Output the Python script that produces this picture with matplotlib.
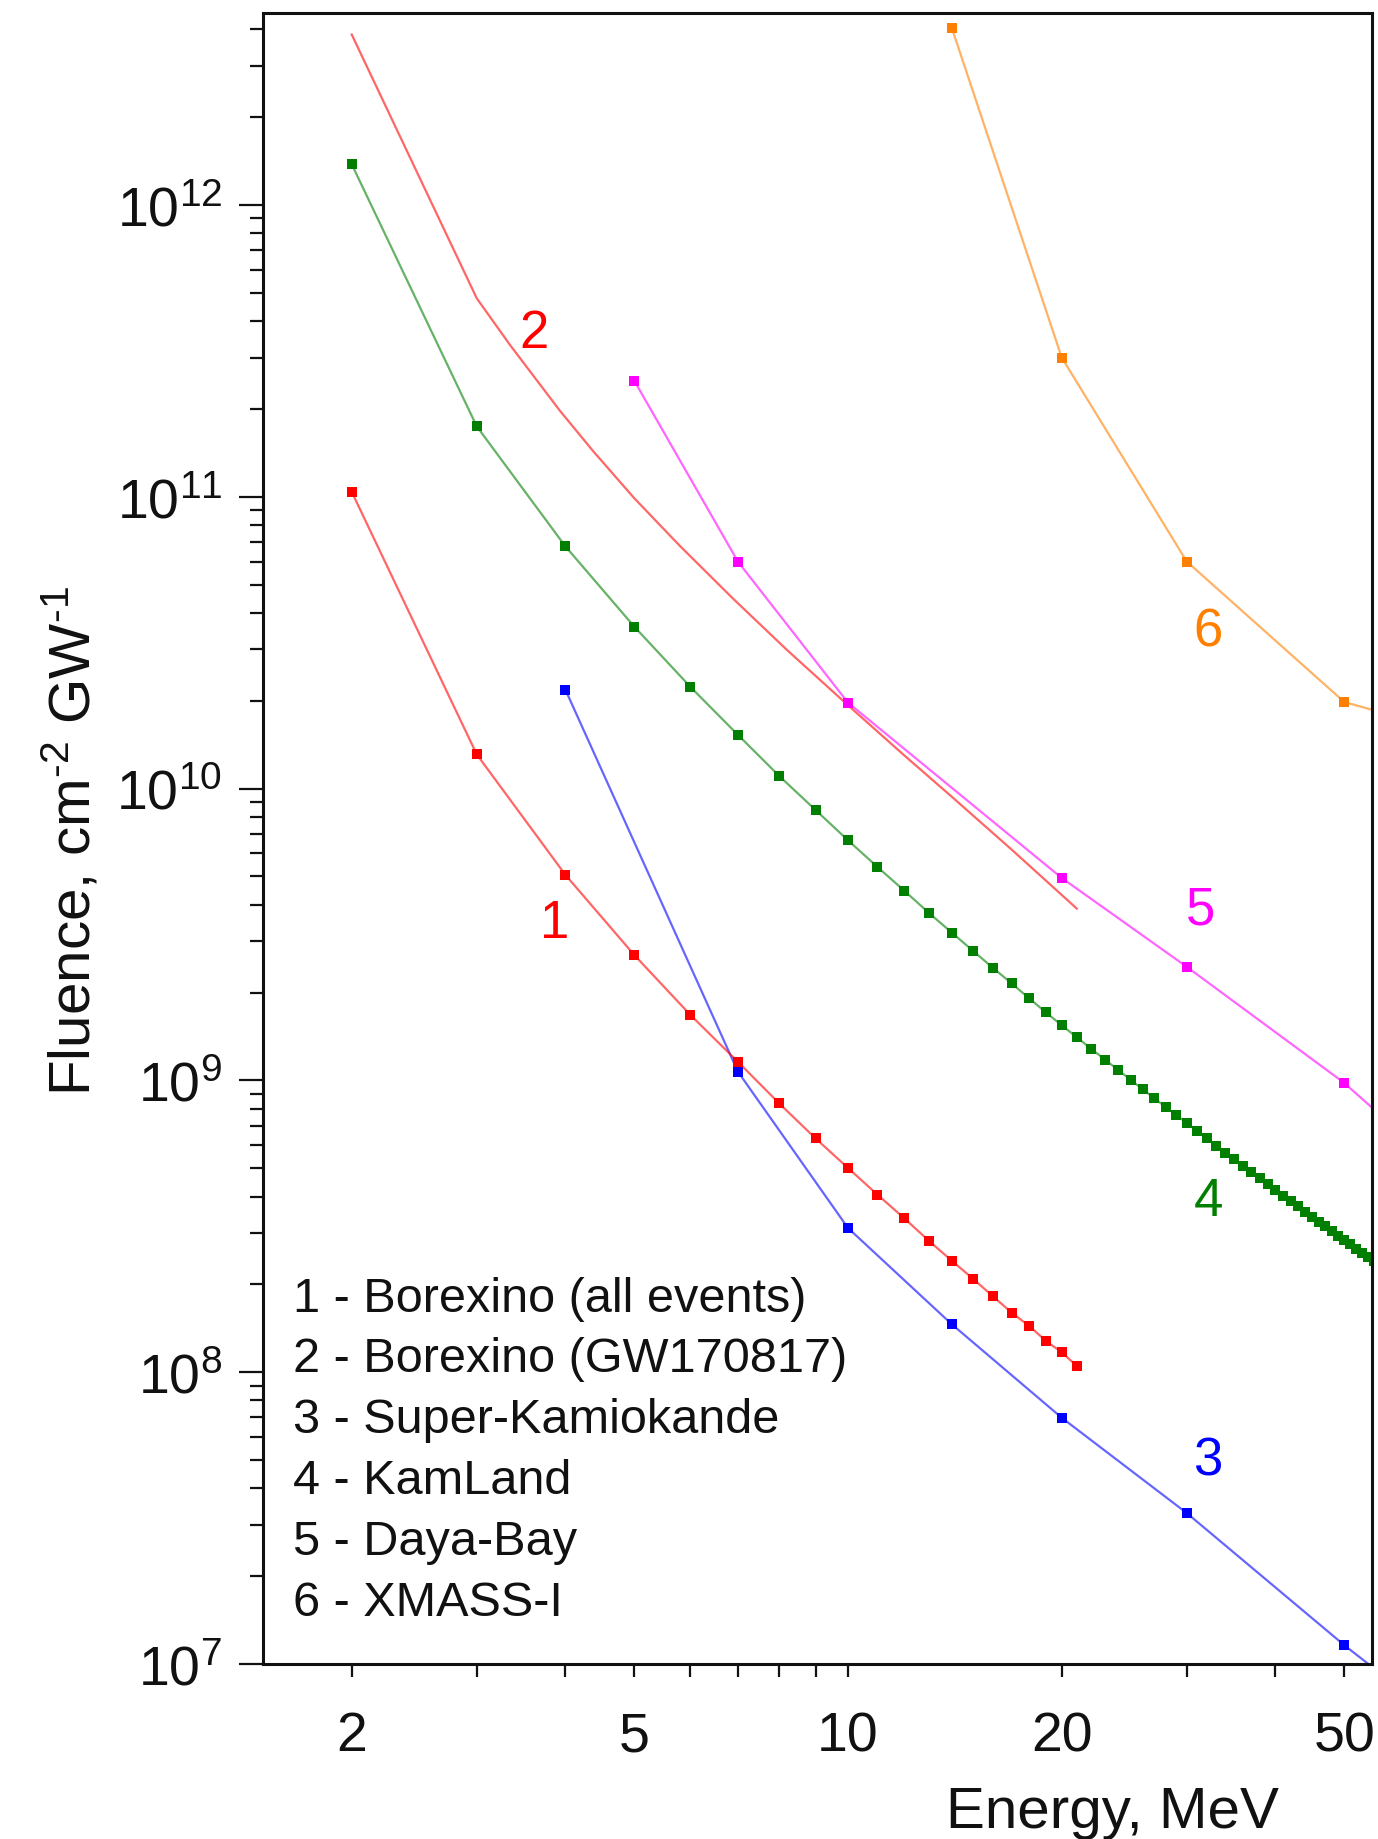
import numpy as np
import matplotlib
matplotlib.use('Agg')
import matplotlib.pyplot as plt
from matplotlib.ticker import FixedLocator, FixedFormatter, LogLocator, NullFormatter

# 1 - Borexino (all events)
e1 = np.arange(2, 22)
f1 = [1.04e11, 1.31e10, 5.06e9, 2.69e9, 1.675e9, 1.157e9, 8.34e8, 6.33e8,
      5.01e8, 4.06e8, 3.37e8, 2.82e8, 2.41e8, 2.09e8, 1.82e8, 1.60e8,
      1.44e8, 1.28e8, 1.17e8, 1.05e8]

# 2 - Borexino (GW170817), plain line
e2 = [2, 3, 3.34, 3.93, 4.38, 5, 5.8, 6.9, 8.2, 10, 12, 14, 17, 21]
f2 = [3.84e12, 4.79e11, 3.32e11, 1.97e11, 1.43e11, 9.89e10, 6.78e10,
      4.46e10, 2.99e10, 1.93e10, 1.30e10, 9.38e9, 6.18e9, 3.88e9]

# 3 - Super-Kamiokande
e3 = [4, 7, 10, 14, 20, 30, 50, 60]
f3 = [2.18e10, 1.07e9, 3.12e8, 1.46e8, 6.98e7, 3.29e7, 1.16e7, 8.2e6]

# 4 - KamLand
e4 = np.arange(2, 56)
f4 = [1.38e12, 1.744e11, 6.76e10, 3.59e10, 2.23e10, 1.527e10, 1.105e10,
      8.45e9, 6.65e9, 5.39e9, 4.47e9, 3.75e9, 3.21e9, 2.78e9, 2.43e9,
      2.15e9, 1.91e9, 1.71e9, 1.545e9,
      1.405e9, 1.284e9, 1.179e9, 1.087e9, 1.005e9,
      9.33e8, 8.69e8, 8.11e8, 7.60e8, 7.14e8,
      6.71e8, 6.33e8, 5.98e8, 5.66e8, 5.37e8,
      5.10e8, 4.85e8, 4.62e8, 4.41e8, 4.21e8,
      4.03e8, 3.86e8, 3.70e8, 3.55e8, 3.41e8,
      3.28e8, 3.16e8, 3.05e8, 2.94e8, 2.84e8,
      2.74e8, 2.65e8, 2.56e8, 2.48e8, 2.40e8]

# 5 - Daya-Bay
e5 = [5, 7, 10, 20, 30, 50, 60]
f5 = [2.5e11, 5.99e10, 1.97e10, 4.94e9, 2.45e9, 9.8e8, 6.6e8]

# 6 - XMASS-I
e6 = [14, 20, 30, 50, 60]
f6 = [4.05e12, 3.0e11, 6.0e10, 1.98e10, 1.75e10]

legend_lines = ['1 - Borexino (all events)', '2 - Borexino (GW170817)',
                '3 - Super-Kamiokande', '4 - KamLand', '5 - Daya-Bay',
                '6 - XMASS-I']

xticks = [2, 5, 10, 20, 50]
xminor = [3, 4, 6, 7, 8, 9, 30, 40]

red = '#FF0000'
green = '#007F00'
blue = '#0000FF'
magenta = '#FF00FF'
orange = '#FF8000'

plt.rcParams['font.family'] = ['Liberation Sans', 'DejaVu Sans']
plt.rcParams['mathtext.fontset'] = 'custom'
plt.rcParams['mathtext.rm'] = 'Liberation Sans'
plt.rcParams['mathtext.it'] = 'Liberation Sans:italic'
plt.rcParams['mathtext.bf'] = 'Liberation Sans:bold'

W, H = 1378, 1840
fig = plt.figure(figsize=(W / 100, H / 100), dpi=100)
ax = fig.add_axes([263 / W, 1 - 1665 / H, (1372 - 263) / W, (1665 - 14) / H])


def curve(e, f, c, marks=True):
    ax.plot(e, f, '-', color=c, lw=1.6, alpha=0.6)
    if marks:
        ax.plot(e, f, 's', color=c, ms=7, mew=0)


curve(e2, f2, red, marks=False)
curve(e6, f6, orange)
curve(e5, f5, magenta)
curve(e4, f4, green)
curve(e3, f3, blue)
curve(e1, f1, red)

ax.set_xscale('log')
ax.set_yscale('log')
ax.set_xlim(1.5, 54.7)
ax.set_ylim(1e7, 4.55e12)

ax.xaxis.set_major_locator(FixedLocator(xticks))
ax.xaxis.set_major_formatter(FixedFormatter([str(v) for v in xticks]))
ax.xaxis.set_minor_locator(FixedLocator(xminor))
ax.xaxis.set_minor_formatter(NullFormatter())
ax.yaxis.set_major_locator(LogLocator(base=10, numticks=20))
ax.yaxis.set_minor_locator(LogLocator(base=10, subs=np.arange(2, 10), numticks=20))
ax.yaxis.set_minor_formatter(NullFormatter())

ax.tick_params(axis='x', which='both', direction='out', length=9.4, width=1.6,
               labelsize=40, pad=24, colors='#111111')
ax.tick_params(axis='y', which='major', direction='out', length=17.3, width=1.6,
               labelsize=40, pad=12, colors='#111111')
ax.tick_params(axis='y', which='minor', direction='out', length=9.4, width=1.6,
               colors='#111111')
for sp in ax.spines.values():
    sp.set_linewidth(2.2)
    sp.set_color('#111111')

# the decade tick on the x axis is longer than the others
for t in ax.xaxis.get_major_ticks():
    if t.get_loc() == 10:
        t.tick1line.set_markersize(17.3)

# curve numbers
nums = [('1', 0.2633, 0.4403, red), ('2', 0.2444, 0.7977, red),
        ('3', 0.8521, 0.1145, blue), ('4', 0.8521, 0.2720, green),
        ('5', 0.8458, 0.4488, magenta), ('6', 0.8521, 0.6166, orange)]
for s, x, y, c in nums:
    ax.text(x, y, s, color=c, fontsize=38, ha='center', va='baseline',
            transform=ax.transAxes)

for i, s in enumerate(legend_lines):
    fig.text(293 / W, 1 - (1311.5 + i * 60.8) / H, s, fontsize=35,
             color='#111111', ha='left', va='baseline')

fig.text(72 / W, 1 - 841 / H, r'Fluence, cm$^{\text{-}2}$ GW$^{\text{-}1}$',
         rotation=90, ha='center', va='center', fontsize=42, color='#111111')
fig.text(1112 / W, 1 - 1828 / H, 'Energy, MeV', ha='center', va='baseline',
         fontsize=42, color='#111111')

fig.savefig('out.png', dpi=100)
